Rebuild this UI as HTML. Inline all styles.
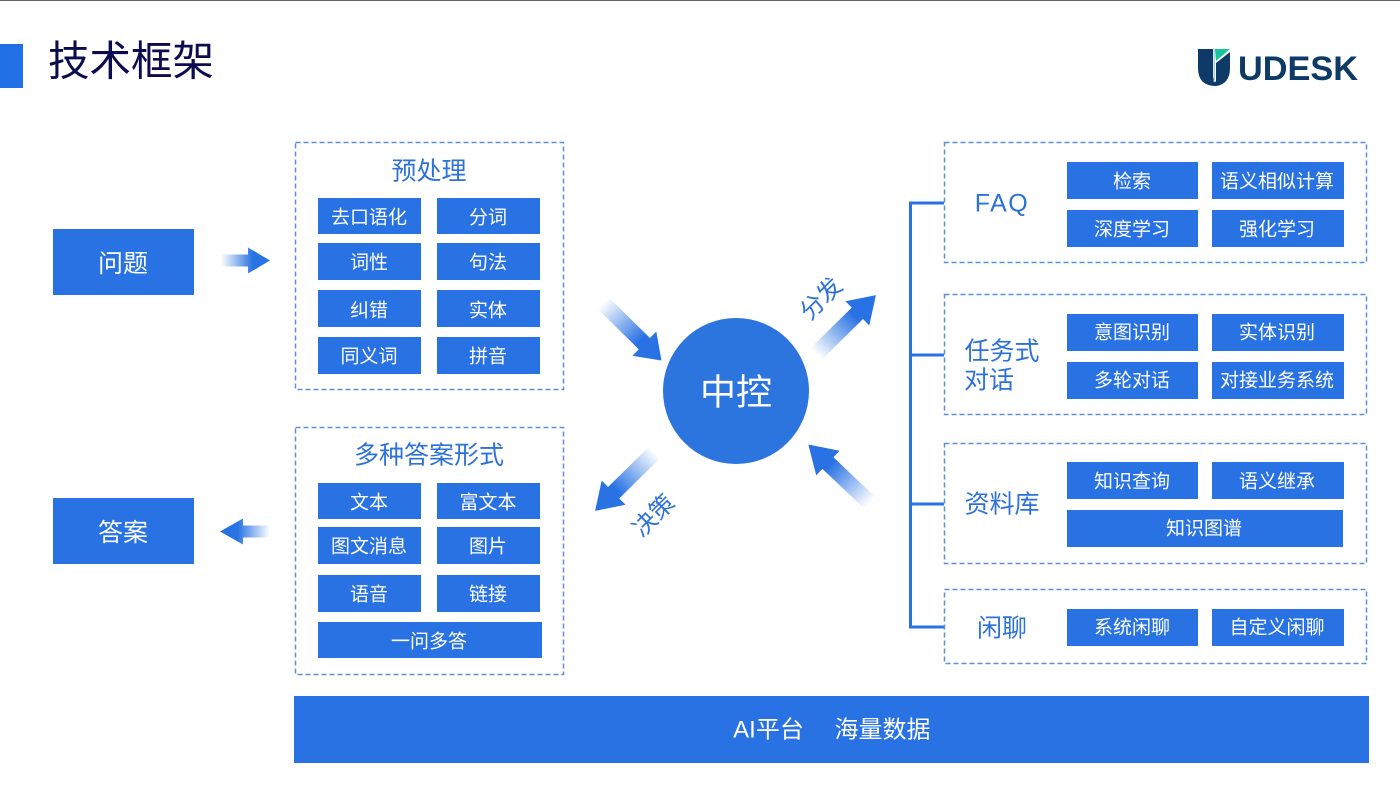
<!DOCTYPE html>
<html lang="zh"><head><meta charset="utf-8"><title>技术框架</title>
<style>
html,body{margin:0;padding:0;background:#fff;width:1400px;height:790px;overflow:hidden}
svg{display:block}
text{font-family:"Liberation Sans","Noto Sans CJK SC",sans-serif;text-anchor:middle;dominant-baseline:central}
.w{fill:#fff;font-size:19px;transform:translateY(2px)}
.b{fill:#2d72d9;font-size:25px;transform:translateY(1.500px)}
.r{fill:#2872e3}
.d{fill:none;stroke:#5b8fd6;stroke-width:1.5;stroke-dasharray:5 3}
</style></head><body>
<svg width="1400" height="790" viewBox="0 0 1400 790" xmlns="http://www.w3.org/2000/svg">
<defs>
<linearGradient id="g" x1="0" x2="1" y1="0" y2="0"><stop offset="0" stop-color="#2872e3" stop-opacity="0"/><stop offset=".65" stop-color="#2872e3"/><stop offset="1" stop-color="#2872e3"/></linearGradient>
</defs>
<rect width="1400" height="1" fill="#666"/>
<rect x="0" y="44" width="23" height="44" fill="#2170e6"/>
<text x="131" y="61" style="font-size:41.500px;fill:#0b0b4d">技术框架</text>

<!-- logo -->
<path d="M1198 49H1213V76Q1213 80 1216 82V86Q1198 86 1198 68Z" fill="#0d3a66"/>
<path d="M1216 63L1230 52V68Q1230 84 1216 86Z" fill="#0d3a66"/>
<path d="M1215 49H1230L1216 61Z" fill="#19c39b"/>
<rect x="1213.500" y="49" width="1.500" height="33" fill="#a9cfe6"/>
<text x="1298" y="69" style="font-size:34px;font-weight:bold;fill:#0d3a66" textLength="120" lengthAdjust="spacingAndGlyphs">UDESK</text>

<!-- left -->
<rect class="r" x="53" y="229" width="141" height="66"/><text class="w" x="123" y="262" style="font-size:25px">问题</text>
<rect class="r" x="53" y="498" width="141" height="66"/><text class="w" x="123" y="531" style="font-size:25px">答案</text>
<g transform="translate(221 260.500)"><path d="M0 -6H27V-13L49 0L27 13V6H0Z" fill="url(#g)"/></g>
<g transform="translate(270 531.500) rotate(180)"><path d="M0 -6H27V-13L50 0L27 13V6H0Z" fill="url(#g)"/></g>

<!-- preprocess -->
<rect class="d" x="295.500" y="142.500" width="268" height="247"/>
<text class="b" x="429" y="170">预处理</text>
<rect class="r" x="318" y="198" width="103" height="36"/><text class="w" x="369" y="216">去口语化</text>
<rect class="r" x="437" y="198" width="103" height="36"/><text class="w" x="488" y="216">分词</text>
<rect class="r" x="318" y="243" width="103" height="37"/><text class="w" x="369" y="261">词性</text>
<rect class="r" x="437" y="243" width="103" height="37"/><text class="w" x="488" y="261">句法</text>
<rect class="r" x="318" y="290" width="103" height="37"/><text class="w" x="369" y="309">纠错</text>
<rect class="r" x="437" y="290" width="103" height="37"/><text class="w" x="488" y="309">实体</text>
<rect class="r" x="318" y="337" width="103" height="37"/><text class="w" x="369" y="355">同义词</text>
<rect class="r" x="437" y="337" width="103" height="37"/><text class="w" x="488" y="355">拼音</text>

<!-- answer -->
<rect class="d" x="295.500" y="427.500" width="268" height="247"/>
<text class="b" x="429" y="454">多种答案形式</text>
<rect class="r" x="318" y="483" width="103" height="36"/><text class="w" x="369" y="501">文本</text>
<rect class="r" x="437" y="483" width="103" height="36"/><text class="w" x="488" y="501">富文本</text>
<rect class="r" x="318" y="527" width="103" height="37"/><text class="w" x="369" y="545">图文消息</text>
<rect class="r" x="437" y="527" width="103" height="37"/><text class="w" x="488" y="545">图片</text>
<rect class="r" x="318" y="575" width="103" height="37"/><text class="w" x="369" y="593">语音</text>
<rect class="r" x="437" y="575" width="103" height="37"/><text class="w" x="488" y="593">链接</text>
<rect class="r" x="318" y="622" width="224" height="36"/><text class="w" x="429" y="640">一问多答</text>

<!-- center -->
<circle cx="736" cy="391" r="73" fill="#2c74de"/>
<text x="736" y="392" style="font-size:36px;fill:#fff">中控</text>
<g transform="translate(603 303) rotate(44.500)"><path d="M0 -8H58V-17L82 0L58 17V8H0Z" fill="url(#g)"/></g>
<g transform="translate(816 354) rotate(-44.500)"><path d="M0 -8H58V-17L84 0L58 17V8H0Z" fill="url(#g)"/></g>
<g transform="translate(655 452) rotate(135.500)"><path d="M0 -8H58V-17L84 0L58 17V8H0Z" fill="url(#g)"/></g>
<g transform="translate(870 503) rotate(-136.500)"><path d="M0 -8H58V-17L85 0L58 17V8H0Z" fill="url(#g)"/></g>
<text x="0" y="0" transform="translate(821.500 299) rotate(-45)" style="font-size:24px;fill:#2d72d9">分发</text>
<text x="0" y="0" transform="translate(654 516) rotate(-45)" style="font-size:24px;fill:#2d72d9">决策</text>

<!-- bracket -->
<path d="M944 203H910.500V627H944M910 355H944M910 504H944" fill="none" stroke="#2872e3" stroke-width="3"/>

<!-- FAQ -->
<rect class="d" x="944.500" y="142.500" width="422" height="120"/>
<text class="b" x="1002" y="202" style="letter-spacing:1.500px">FAQ</text>
<rect class="r" x="1067" y="162" width="131" height="37"/><text class="w" x="1132" y="180">检索</text>
<rect class="r" x="1212" y="162" width="132" height="37"/><text class="w" x="1277" y="180">语义相似计算</text>
<rect class="r" x="1067" y="210" width="131" height="37"/><text class="w" x="1132" y="228">深度学习</text>
<rect class="r" x="1212" y="210" width="132" height="37"/><text class="w" x="1277" y="228">强化学习</text>

<!-- task -->
<rect class="d" x="944.500" y="294.500" width="422" height="120"/>
<text class="b" x="1002" y="350">任务式</text>
<text class="b" x="989" y="379">对话</text>
<rect class="r" x="1067" y="314" width="131" height="37"/><text class="w" x="1132" y="331">意图识别</text>
<rect class="r" x="1212" y="314" width="132" height="37"/><text class="w" x="1277" y="331">实体识别</text>
<rect class="r" x="1067" y="362" width="131" height="37"/><text class="w" x="1132" y="379">多轮对话</text>
<rect class="r" x="1212" y="362" width="132" height="37"/><text class="w" x="1277" y="379">对接业务系统</text>

<!-- knowledge -->
<rect class="d" x="944.500" y="443.500" width="422" height="120"/>
<text class="b" x="1002" y="503">资料库</text>
<rect class="r" x="1067" y="462" width="131" height="37"/><text class="w" x="1132" y="480">知识查询</text>
<rect class="r" x="1212" y="462" width="132" height="37"/><text class="w" x="1277" y="480">语义继承</text>
<rect class="r" x="1067" y="510" width="276" height="37"/><text class="w" x="1204" y="527">知识图谱</text>

<!-- chat -->
<rect class="d" x="944.500" y="589.500" width="422" height="74"/>
<text class="b" x="1002" y="627">闲聊</text>
<rect class="r" x="1067" y="609" width="131" height="37"/><text class="w" x="1132" y="626">系统闲聊</text>
<rect class="r" x="1212" y="609" width="132" height="37"/><text class="w" x="1277" y="626">自定义闲聊</text>

<!-- bar -->
<rect class="r" x="294" y="696" width="1075" height="67"/>
<text x="768.500" y="730" style="font-size:24px;fill:#fff">AI平台</text>
<text x="882.500" y="730" style="font-size:24px;fill:#fff">海量数据</text>
</svg>
</body></html>
